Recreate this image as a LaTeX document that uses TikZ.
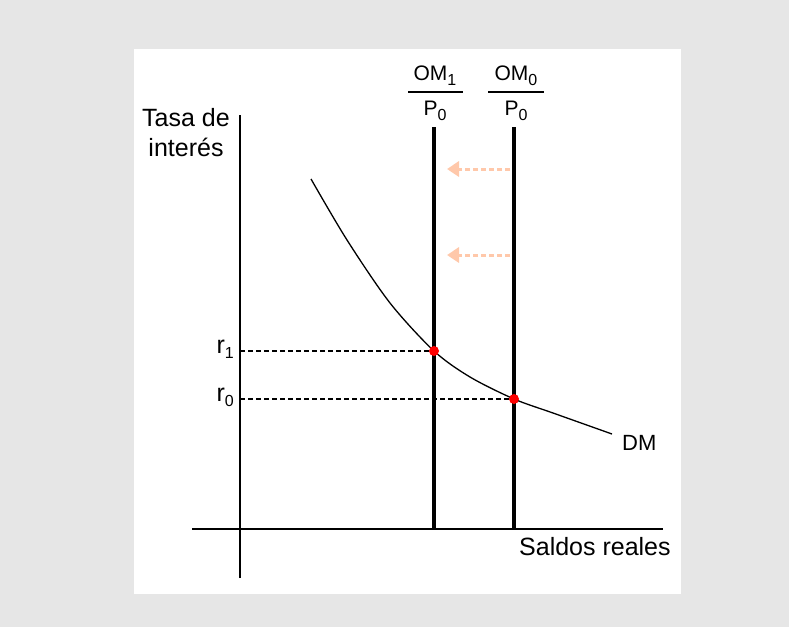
\documentclass[tikz,border=0pt]{standalone}
\usepackage{fontspec}
\setmainfont{Liberation Sans}
\usetikzlibrary{arrows.meta}
\definecolor{bggray}{RGB}{230,230,230}
\definecolor{salmon}{RGB}{255,200,170}
\definecolor{red}{RGB}{255,0,0}
\newcommand{\lowsub}[1]{\raisebox{-5pt}{\fontsize{16}{16}\selectfont #1}}

\begin{document}
\begin{tikzpicture}[x=1pt,y=-1pt,
  lab/.style={inner sep=0pt, font=\fontsize{25}{30}\selectfont},
  small/.style={inner sep=0pt, font=\fontsize{21}{25}\selectfont},
  shiftarrow/.style={salmon, line width=3pt, dash pattern=on 5pt off 3pt,
    -{Triangle[width=15pt,length=12pt]}}]

% Frame
\fill[bggray] (0,0) rectangle (789,627);
\fill[white] (134,49) rectangle (681,594);
\useasboundingbox (0,0) rectangle (789,627);

\def\Xone{434}  % OM_1 / P_0
\def\Xzero{514} % OM_0 / P_0
\def\Rone{351}  % r_1
\def\Rzero{399} % r_0

% Axes
\coordinate (ytop) at (240,115);
\coordinate (ybot) at (240,578);
\coordinate (xleft) at (192,529);
\coordinate (xright) at (663,529);
\draw[line width=2pt] (ybot) -- (ytop);
\draw[line width=2pt] (xleft) -- (xright);

\node[lab, align=center, anchor=north] (tasa) at (186,108) {Tasa de\\interés};
\node[lab, anchor=base west] (saldos) at (519,555) {Saldos reales};

% Money supply lines
\coordinate (om1top) at (\Xone,127);
\coordinate (om1bot) at (\Xone,529);
\coordinate (om0top) at (\Xzero,127);
\coordinate (om0bot) at (\Xzero,529);
\draw[line width=4pt] (om1bot) -- (om1top);
\draw[line width=4pt] (om0bot) -- (om0top);

\node[small, anchor=base] (om1num) at (435,80) {OM\lowsub{1}};
\node[small, anchor=base] (om1den) at (435,115) {P\lowsub{0}};
\coordinate (bar1l) at (408,92);
\coordinate (bar1r) at (463,92);
\draw[line width=1.5pt] (bar1l) -- (bar1r);

\node[small, anchor=base] (om0num) at (516,80) {OM\lowsub{0}};
\node[small, anchor=base] (om0den) at (516,115) {P\lowsub{0}};
\coordinate (bar0l) at (488,92);
\coordinate (bar0r) at (544,92);
\draw[line width=1.5pt] (bar0l) -- (bar0r);

% Shift of supply
\coordinate (a1s) at (510,169);
\coordinate (a1e) at (447,169);
\coordinate (a2s) at (510,255);
\coordinate (a2e) at (447,255);
\draw[shiftarrow] (a1s) -- (a1e);
\draw[shiftarrow] (a2s) -- (a2e);

% Money demand
\draw[line width=1.3pt] plot[smooth] coordinates
  {(311,179) (347,240) (390,303) (\Xone,\Rone) (470,377) (\Xzero,\Rzero) (553,413) (612,434)};
\node[font=\fontsize{22}{26}\selectfont, inner sep=0pt, anchor=base west] (dm) at (622,450) {DM};

% Equilibria
\coordinate (e1) at (\Xone,\Rone);
\coordinate (e0) at (\Xzero,\Rzero);
\draw[line width=1.3pt, dash pattern=on 5pt off 3pt] (ytop |- e1) -- (e1);
\draw[line width=1.3pt, dash pattern=on 5pt off 3pt] (ytop |- e0) -- (e0);
\fill[red] (e1) circle (5pt);
\fill[red] (e0) circle (5pt);

\node[lab, anchor=base east] (r1) at (234,353) {r\lowsub{1}};
\node[lab, anchor=base east] (r0) at (234,401) {r\lowsub{0}};

\end{tikzpicture}
\end{document}
